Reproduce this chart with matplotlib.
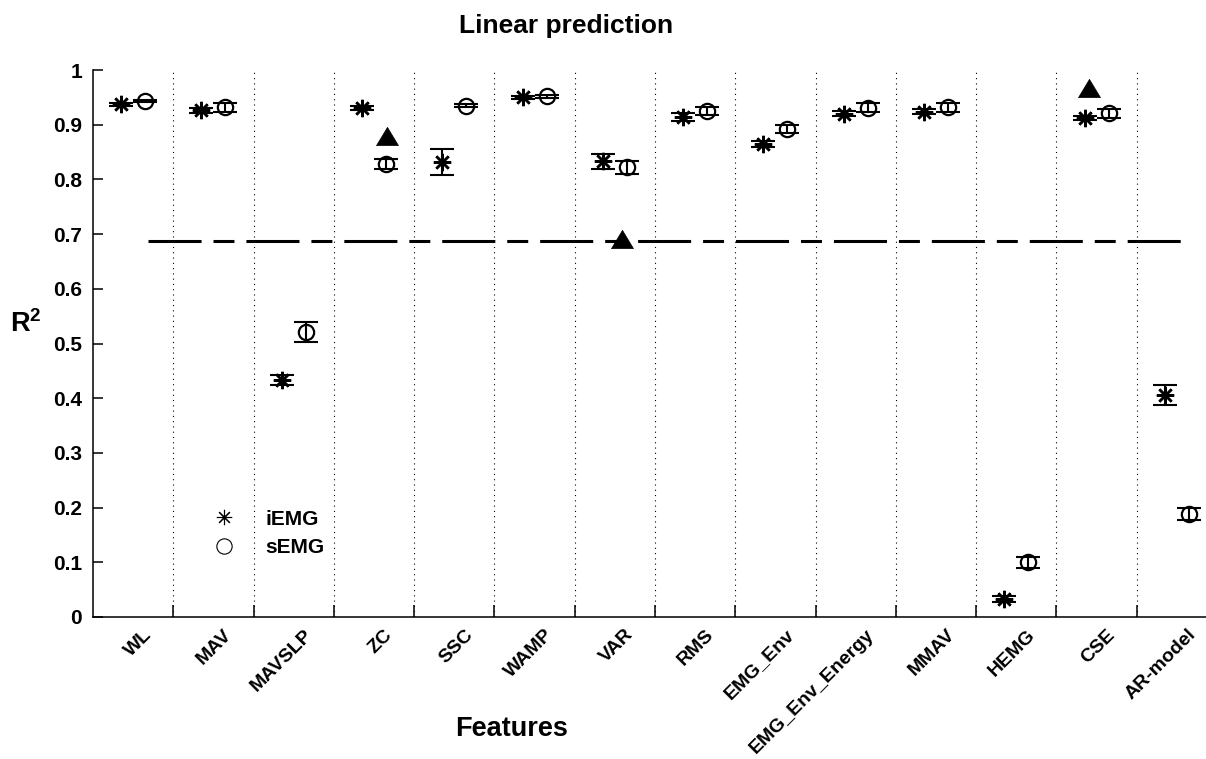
import numpy as np
import matplotlib

matplotlib.use("Agg")
import matplotlib.pyplot as plt
from matplotlib.lines import Line2D
from matplotlib.path import Path
from matplotlib.transforms import ScaledTranslation

# 特征名称
features = [
    "WL", "MAV", "MAVSLP", "ZC", "SSC", "WAMP", "VAR",
    "RMS", "EMG_Env", "EMG_Env_Energy", "MMAV", "HEMG", "CSE", "AR-model",
]

# iEMG 的 R2 及误差
iemg_r2 = [0.937, 0.926, 0.433, 0.930, 0.832, 0.950, 0.833,
           0.914, 0.865, 0.920, 0.924, 0.033, 0.912, 0.406]
iemg_err = [0.003, 0.005, 0.009, 0.004, 0.024, 0.003, 0.014,
            0.007, 0.006, 0.005, 0.005, 0.005, 0.004, 0.018]

# sEMG 的 R2 及误差
semg_r2 = [0.944, 0.932, 0.521, 0.828, 0.935, 0.952, 0.822,
           0.925, 0.892, 0.931, 0.932, 0.100, 0.921, 0.188]
semg_err = [0.002, 0.008, 0.019, 0.009, 0.002, 0.003, 0.012,
            0.008, 0.008, 0.008, 0.008, 0.010, 0.008, 0.011]

# 三角形标记
tri_feature = ["ZC", "VAR", "CSE"]
tri_shift = [0.16, 0.09, -0.09]
tri_r2 = [0.879, 0.691, 0.968]

# 参考虚线
ref_x = [1.18, 14.12]
ref_y = [0.687, 0.687]

plt.rcParams["font.family"] = ["Liberation Sans", "DejaVu Sans"]
plt.rcParams["font.weight"] = "bold"
plt.rcParams["mathtext.fontset"] = "custom"
plt.rcParams["mathtext.rm"] = "Liberation Sans:bold"
plt.rcParams["mathtext.bf"] = "Liberation Sans:bold"
plt.rcParams["lines.scale_dashes"] = False

fig = plt.figure(figsize=(12.06, 7.59), dpi=100)
ax = fig.add_axes([93 / 1206, 142 / 759, 1124 / 1206, 547 / 759])

x = np.arange(1, len(features) + 1)

# 误差线
ax.errorbar(x - 0.15, iemg_r2, yerr=iemg_err, fmt="none", ecolor="k",
            elinewidth=1.5, capsize=8.5, capthick=1.5, zorder=3)
ax.errorbar(x + 0.15, semg_r2, yerr=semg_err, fmt="none", ecolor="k",
            elinewidth=1.5, capsize=8.5, capthick=1.5, zorder=3)

# 数据点
ax.plot(x - 0.15, iemg_r2, linestyle="none", marker=(8, 2, 0), ms=12.5,
        mec="k", mew=1.8, zorder=4)
ax.plot(x + 0.15, semg_r2, linestyle="none", marker="o", ms=11,
        mfc="none", mec="k", mew=1.6, zorder=4)

# 三角形
tri_marker = Path([(-1, -0.83), (1, -0.83), (0, 0.83), (-1, -0.83)])
tri_x = [features.index(f) + 1 + s for f, s in zip(tri_feature, tri_shift)]
ax.plot(tri_x, tri_r2, linestyle="none", marker=tri_marker, ms=15.8,
        mfc="k", mec="k", mew=0.5, zorder=5)

# 虚线
ax.plot(ref_x, ref_y, color="k", lw=2.2, solid_capstyle="butt",
        dash_capstyle="butt", dashes=(38.2, 8.6, 15.1, 8.6), zorder=2)

# 坐标轴
ax.set_xlim(0.5, len(features) + 0.5)
ax.set_ylim(0, 1)
ax.spines["top"].set_visible(False)
ax.spines["right"].set_visible(False)
ax.spines["left"].set_linewidth(1.1)
ax.spines["bottom"].set_linewidth(1.1)

ax.set_xticks(x[:-1] + 0.5)
ax.set_xticklabels([])
ax.set_xticks(x, minor=True)
ax.set_xticklabels(features, minor=True, rotation=45, ha="right",
                   va="center", rotation_mode="anchor", fontsize=14,
                   fontweight="bold")
ax.tick_params(axis="x", which="major", direction="in", length=9, width=1.1)
ax.tick_params(axis="x", which="minor", length=0, pad=11)
for lbl in ax.get_xticklabels(minor=True):
    lbl.set_transform(lbl.get_transform() + ScaledTranslation(16 / 100, 0, fig.dpi_scale_trans))

yticks = np.round(np.arange(0, 1.01, 0.1), 1)
ax.set_yticks(yticks)
ax.set_yticklabels(["0" if v == 0 else ("1" if v == 1 else f"{v:.1f}") for v in yticks],
                   fontsize=15, fontweight="bold")
ax.tick_params(axis="y", direction="in", length=7.2, width=1.1, pad=8)

ax.set_axisbelow(True)
ax.xaxis.grid(True, which="major", linestyle=(0, (0.8, 3)), color="k", lw=0.8)

# 图例
handles = [
    Line2D([], [], linestyle="none", marker=(8, 2, 0), ms=11, mec="k", mew=0.8),
    Line2D([], [], linestyle="none", marker="o", ms=11, mfc="none", mec="k", mew=0.8),
]
ax.legend(handles, ["iEMG", "sEMG"], loc="center left",
          bbox_to_anchor=(0.0984, 0.153), frameon=False, borderpad=0,
          handlelength=1, handletextpad=1.47, labelspacing=0.44,
          prop={"size": 15, "weight": "bold"})

# 标题和轴标签
fig.text(566 / 1206, 1 - 33 / 759, "Linear prediction", ha="center",
         va="baseline", fontsize=19, fontweight="bold")
fig.text(511.5 / 1206, 1 - 736 / 759, "Features", ha="center",
         va="baseline", fontsize=19.5, fontweight="bold")
fig.text(10 / 1206, 1 - 332 / 759, r"R$^{2}$", ha="left",
         va="baseline", fontsize=19.5, fontweight="bold")

plt.savefig("out.png", dpi=100)
